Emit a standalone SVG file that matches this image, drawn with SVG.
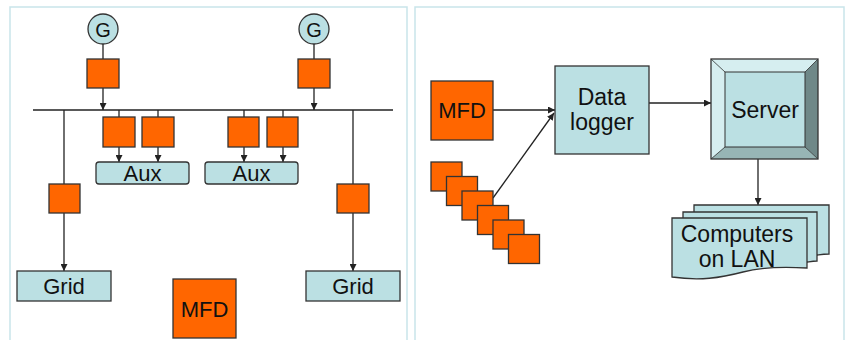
<svg xmlns="http://www.w3.org/2000/svg" width="847" height="340" viewBox="0 0 847 340">
<defs>
<style>
.panel{fill:#fff;stroke:#c9e5ea;stroke-width:1.5}
.mfd{fill:#ff6600;stroke:#333;stroke-width:1.3}
.lb{fill:#bbe0e3;stroke:#333;stroke-width:1.3}
.ln{fill:none;stroke:#222;stroke-width:1.3}
.arr{fill:none;stroke:#222;stroke-width:1.3;marker-end:url(#ah)}
.t{font-family:"Liberation Sans",Arial,sans-serif;font-size:22px;fill:#111;text-anchor:middle}
.t2{font-size:23px}
</style>
<marker id="ah" viewBox="0 0 10 10" refX="10" refY="5" markerWidth="7" markerHeight="7" markerUnits="userSpaceOnUse" orient="auto">
<path d="M0,0 L10,5 L0,10 Z" fill="#222"/>
</marker>
</defs>
<rect width="847" height="340" fill="#fff"/>
<rect class="panel" x="10" y="7" width="397" height="340"/>
<rect class="panel" x="415" y="7" width="429" height="340"/>

<g id="connectors">
<line class="ln" x1="103" y1="44" x2="103" y2="59"/>
<line class="arr" x1="103" y1="88" x2="103" y2="110"/>
<line class="ln" x1="314" y1="44" x2="314" y2="59"/>
<line class="arr" x1="314" y1="88" x2="314" y2="110"/>
<line class="ln" x1="33" y1="110" x2="393" y2="110"/>
<line class="ln" x1="119" y1="110" x2="119" y2="117"/>
<line class="ln" x1="158" y1="110" x2="158" y2="117"/>
<line class="ln" x1="244" y1="110" x2="244" y2="117"/>
<line class="ln" x1="283" y1="110" x2="283" y2="117"/>
<line class="arr" x1="119" y1="147" x2="119" y2="162"/>
<line class="arr" x1="158" y1="147" x2="158" y2="162"/>
<line class="arr" x1="244" y1="147" x2="244" y2="162"/>
<line class="arr" x1="283" y1="147" x2="283" y2="162"/>
<line class="ln" x1="64" y1="110" x2="64" y2="184"/>
<line class="arr" x1="64" y1="213" x2="64" y2="271"/>
<line class="ln" x1="353" y1="110" x2="353" y2="184"/>
<line class="arr" x1="353" y1="213" x2="353" y2="271"/>
<line class="arr" x1="493" y1="110" x2="555" y2="110"/>
<line class="arr" x1="493" y1="198" x2="554" y2="113"/>
<line class="arr" x1="649" y1="103" x2="711" y2="103"/>
<line class="arr" x1="758" y1="159" x2="758" y2="205"/>
</g>

<g id="gen1"><circle class="lb" cx="103" cy="29" r="15"/><text class="t" x="103" y="36.5" style="font-size:20px">G</text></g>
<g id="gen2"><circle class="lb" cx="314" cy="29" r="15"/><text class="t" x="314" y="36.5" style="font-size:20px">G</text></g>
<g id="m1"><rect class="mfd" x="87" y="59" width="32" height="29"/></g>
<g id="m2"><rect class="mfd" x="298" y="59" width="32" height="29"/></g>
<g id="m3"><rect class="mfd" x="103" y="117" width="32" height="30"/></g>
<g id="m4"><rect class="mfd" x="142" y="117" width="32" height="30"/></g>
<g id="m5"><rect class="mfd" x="228" y="117" width="31" height="30"/></g>
<g id="m6"><rect class="mfd" x="267" y="117" width="31" height="30"/></g>
<g id="m7"><rect class="mfd" x="49" y="184" width="31" height="29"/></g>
<g id="m8"><rect class="mfd" x="337" y="184" width="32" height="29"/></g>
<g id="aux1"><rect class="lb" x="96" y="162" width="93" height="22" rx="3"/><text class="t" x="142.5" y="181">Aux</text></g>
<g id="aux2"><rect class="lb" x="205" y="162" width="93" height="22" rx="3"/><text class="t" x="251.5" y="181">Aux</text></g>
<g id="grid1"><rect class="lb" x="17" y="271" width="94" height="30"/><text class="t" x="64" y="294">Grid</text></g>
<g id="grid2"><rect class="lb" x="306" y="271" width="94" height="30"/><text class="t" x="353" y="294">Grid</text></g>
<g id="mfdL"><rect class="mfd" x="173" y="279" width="63" height="59"/><text class="t" x="204.5" y="316.5">MFD</text></g>

<g id="mfdR"><rect class="mfd" x="431" y="81" width="62" height="59"/><text class="t" x="462" y="118">MFD</text></g>
<g id="stack">
<rect class="mfd" x="431" y="162" width="31" height="29"/>
<rect class="mfd" x="446.5" y="176.5" width="31" height="29"/>
<rect class="mfd" x="462" y="191" width="31" height="29"/>
<rect class="mfd" x="477.5" y="205.5" width="31" height="29"/>
<rect class="mfd" x="493" y="220" width="31" height="29"/>
<rect class="mfd" x="508.5" y="234.5" width="31" height="29"/>
</g>
<g id="logger"><rect class="lb" x="555" y="66" width="94" height="88"/><text class="t t2" x="602" y="105">Data</text><text class="t t2" x="602" y="130">logger</text></g>
<g id="server">
<rect x="711" y="59" width="107" height="100" fill="#bbe0e3"/>
<polygon points="711,59 818,59 805,72 725,72" fill="#d6eef0"/>
<polygon points="711,59 725,72 725,147 711,159" fill="#d6eef0"/>
<polygon points="818,59 818,159 805,147 805,72" fill="#6f8888"/>
<polygon points="711,159 818,159 805,147 725,147" fill="#97b5b5"/>
<rect x="711" y="59" width="107" height="100" fill="none" stroke="#333" stroke-width="1.3"/>
<rect x="725" y="72" width="80" height="75" fill="none" stroke="#333" stroke-width="1"/>
<line x1="711" y1="59" x2="725" y2="72" stroke="#333" stroke-width="0.8"/>
<line x1="818" y1="59" x2="805" y2="72" stroke="#333" stroke-width="0.8"/>
<line x1="711" y1="159" x2="725" y2="147" stroke="#333" stroke-width="0.8"/>
<line x1="818" y1="159" x2="805" y2="147" stroke="#333" stroke-width="0.8"/>
<text class="t t2" x="765" y="118">Server</text>
</g>
<g id="computers">
<path class="lb" d="M694,205 H829 V254 C822,254 818,255 817,255 L694,255 Z"/>
<path class="lb" d="M683,212 H817 V261 C812,261 808,262 807,262 L683,262 Z"/>
<path class="lb" d="M672,218 H807 V268 C790,267 765,266 743,272 C720,278 700,281 672,277 Z"/>
<text class="t t2" x="737" y="242">Computers</text>
<text class="t t2" x="737" y="267">on LAN</text>
</g>
</svg>
